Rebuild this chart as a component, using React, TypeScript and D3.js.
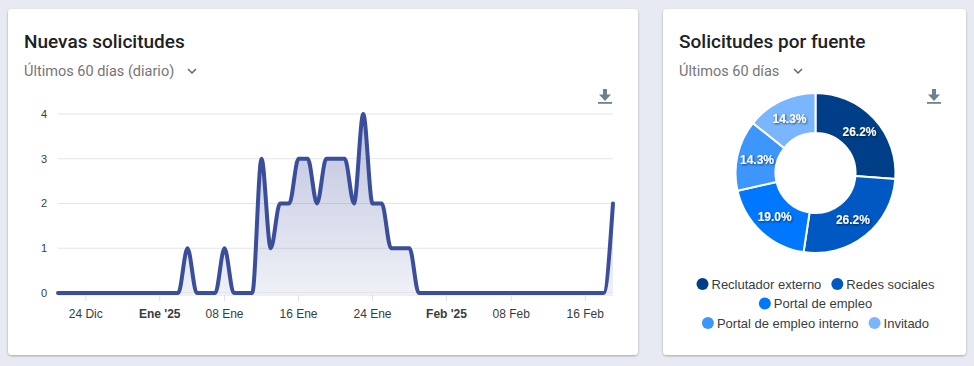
import * as d3 from "d3";

// datos: solicitudes diarias (21 Dic 2024 - 19 Feb 2025)
const startDate = new Date(2024, 11, 21);
const dailyValues = [
  0, 0, 0, 0, 0, 0, 0, 0, 0, 0, 0, 0, 0, 0, 1, 0, 0, 0, 1, 0, 0, 0,
  3, 1, 2, 2, 3, 3, 2, 3, 3, 3, 2, 4, 2, 2, 1, 1, 1,
  0, 0, 0, 0, 0, 0, 0, 0, 0, 0, 0, 0, 0, 0, 0, 0, 0, 0, 0, 0, 0,
  2,
];
const yTicks = [0, 1, 2, 3, 4];
const xTickDates = [
  new Date(2024, 11, 24),
  new Date(2025, 0, 1),
  new Date(2025, 0, 8),
  new Date(2025, 0, 16),
  new Date(2025, 0, 24),
  new Date(2025, 1, 1),
  new Date(2025, 1, 8),
  new Date(2025, 1, 16),
];
const xTickLabels = ["24 Dic", "Ene '25", "08 Ene", "16 Ene", "24 Ene", "Feb '25", "08 Feb", "16 Feb"];
const xTickBold = [false, true, false, false, false, true, false, false];

// datos: solicitudes por fuente
const sources = ["Reclutador externo", "Redes sociales", "Portal de empleo", "Portal de empleo interno", "Invitado"];
const sourceCounts = [11, 11, 8, 6, 6];
const sourceColors = ["#003f88", "#0058c2", "#0077ff", "#3d96fb", "#7ab6fd"];
const legendRows = [[0, 1], [2], [3, 4]];

const chartFont = "'Liberation Sans', Arial, Helvetica, sans-serif";
const titleFont = "Roboto, 'Noto Sans', sans-serif";

let measureCtx: CanvasRenderingContext2D | null = null;
const textWidth = (t: string, font: string) => {
  if (!measureCtx) measureCtx = document.createElement("canvas").getContext("2d");
  if (!measureCtx) return t.length * 7;
  measureCtx.font = font;
  return measureCtx.measureText(t).width;
};

const DownloadIcon = ({ x, y }: { x: number; y: number }) => (
  <g transform={`translate(${x},${y})`} fill="#6e8192">
    <rect x={-2} y={-7} width={4} height={6} />
    <path d="M-6,-1.5 L6,-1.5 L0,5 Z" />
    <rect x={-7} y={6} width={14} height={1.8} />
  </g>
);

const Chevron = ({ x, y }: { x: number; y: number }) => (
  <polyline
    points={`${x - 4},${y - 2} ${x},${y + 2} ${x + 4},${y - 2}`}
    fill="none"
    stroke="#666"
    strokeWidth={1.5}
  />
);

const App = () => {
  const W = 974;
  const H = 366;

  // gráfico de líneas
  const margin = { left: 58, right: 613, top: 114, bottom: 293 };
  const dates = dailyValues.map((_, i) => d3.timeDay.offset(startDate, i));
  const x = d3
    .scaleTime()
    .domain([dates[0], dates[dates.length - 1]])
    .range([margin.left, margin.right]);
  const y = d3.scaleLinear().domain([0, 4]).range([margin.bottom, margin.top]);

  const line = d3
    .line<number>()
    .x((_, i) => x(dates[i]))
    .y((d) => y(d))
    .curve(d3.curveMonotoneX);
  const area = d3
    .area<number>()
    .x((_, i) => x(dates[i]))
    .y0(y(0))
    .y1((d) => y(d))
    .curve(d3.curveMonotoneX);

  // donut
  const cx = 815.5;
  const cy = 173;
  const outerR = 80;
  const innerR = 40;
  const total = d3.sum(sourceCounts);
  const pie = d3.pie<number>().sort(null).value((d) => d);
  const arcs = pie(sourceCounts);
  const arc = d3.arc<d3.PieArcDatum<number>>().innerRadius(innerR).outerRadius(outerR);
  const labelArc = d3
    .arc<d3.PieArcDatum<number>>()
    .innerRadius((innerR + outerR) / 2)
    .outerRadius((innerR + outerR) / 2);

  const legendFont = `13px ${chartFont}`;
  const itemW = (i: number) => 12 + 3 + textWidth(sources[i], legendFont);
  const rowGap = 10;

  return (
    <div style={{ position: "absolute", left: 0, top: 0 }}>
      <svg width={W} height={H} style={{ display: "block" }}>
        <defs>
          <filter id="cardShadow" x="-5%" y="-5%" width="110%" height="115%">
            <feDropShadow dx={0} dy={1} stdDeviation={1} floodColor="#000" floodOpacity={0.3} />
          </filter>
          <filter id="txtShadow" x="-20%" y="-20%" width="140%" height="160%">
            <feDropShadow dx={1} dy={1} stdDeviation={1.2} floodColor="#000" floodOpacity={0.6} />
          </filter>
          <linearGradient id="areaGrad" x1="0" y1="0" x2="0" y2="1">
            <stop offset="0%" stopColor="#3b4e9c" stopOpacity={0.35} />
            <stop offset="100%" stopColor="#3b4e9c" stopOpacity={0.08} />
          </linearGradient>
        </defs>

        <rect x={0} y={0} width={W} height={H} fill="#e8eaf3" />

        {/* tarjeta izquierda */}
        <rect x={8} y={9} width={630} height={346} rx={4} fill="#fff" filter="url(#cardShadow)" />
        <text x={24} y={48} fontFamily={titleFont} fontSize={19} fontWeight={500} fill="#212121">
          Nuevas solicitudes
        </text>
        <text x={24} y={76} fontFamily={titleFont} fontSize={14.5} fill="#757575">
          Últimos 60 días (diario)
        </text>
        <Chevron x={192} y={71} />
        <DownloadIcon x={605} y={96} />

        {yTicks.map((t) => (
          <g key={t}>
            <line x1={margin.left} x2={margin.right} y1={y(t)} y2={y(t)} stroke="#e5e5e5" strokeWidth={1} />
            <text
              x={47}
              y={y(t)}
              dy="0.35em"
              textAnchor="end"
              fontFamily={chartFont}
              fontSize={11}
              fill="#373d3f"
            >
              {t}
            </text>
          </g>
        ))}
        <line x1={margin.left} x2={margin.right} y1={295} y2={295} stroke="#e0e0e0" />
        {xTickDates.map((d, i) => (
          <g key={i}>
            <line x1={x(d)} x2={x(d)} y1={295} y2={301} stroke="#e0e0e0" />
            <text
              x={x(d)}
              y={318}
              textAnchor="middle"
              fontFamily={chartFont}
              fontSize={12}
              fontWeight={xTickBold[i] ? 700 : 400}
              fill="#373d3f"
            >
              {xTickLabels[i]}
            </text>
          </g>
        ))}
        <path d={area(dailyValues) || ""} fill="url(#areaGrad)" />
        <path
          d={line(dailyValues) || ""}
          fill="none"
          stroke="#3b4e9c"
          strokeWidth={4}
          strokeLinejoin="round"
          strokeLinecap="round"
        />

        {/* tarjeta derecha */}
        <rect x={663} y={9} width={303} height={346} rx={4} fill="#fff" filter="url(#cardShadow)" />
        <text x={679} y={48} fontFamily={titleFont} fontSize={19} fontWeight={500} fill="#212121">
          Solicitudes por fuente
        </text>
        <text x={679} y={76} fontFamily={titleFont} fontSize={14.5} fill="#757575">
          Últimos 60 días
        </text>
        <Chevron x={798} y={71} />
        <DownloadIcon x={934} y={96} />

        <g transform={`translate(${cx},${cy})`}>
          {arcs.map((a, i) => (
            <path key={i} d={arc(a) || ""} fill={sourceColors[i]} stroke="#fff" strokeWidth={2} />
          ))}
          {arcs.map((a, i) => {
            const [lx, ly] = labelArc.centroid(a);
            return (
              <text
                key={i}
                x={lx}
                y={ly}
                dy="0.35em"
                textAnchor="middle"
                fontFamily={chartFont}
                fontSize={12}
                fontWeight={700}
                fill="#fff"
                filter="url(#txtShadow)"
              >
                {((sourceCounts[i] / total) * 100).toFixed(1)}%
              </text>
            );
          })}
        </g>

        {legendRows.map((row, r) => {
          const rowW = d3.sum(row, itemW) + rowGap * (row.length - 1);
          let cursor = cx - rowW / 2;
          const ry = 284 + r * 19.5;
          return (
            <g key={r}>
              {row.map((i) => {
                const x0 = cursor;
                cursor += itemW(i) + rowGap;
                return (
                  <g key={i}>
                    <circle cx={x0 + 6} cy={ry} r={6} fill={sourceColors[i]} />
                    <text
                      x={x0 + 15}
                      y={ry}
                      dy="0.35em"
                      fontFamily={chartFont}
                      fontSize={13}
                      fill="#373d3f"
                    >
                      {sources[i]}
                    </text>
                  </g>
                );
              })}
            </g>
          );
        })}
      </svg>
    </div>
  );
};

export default App;
